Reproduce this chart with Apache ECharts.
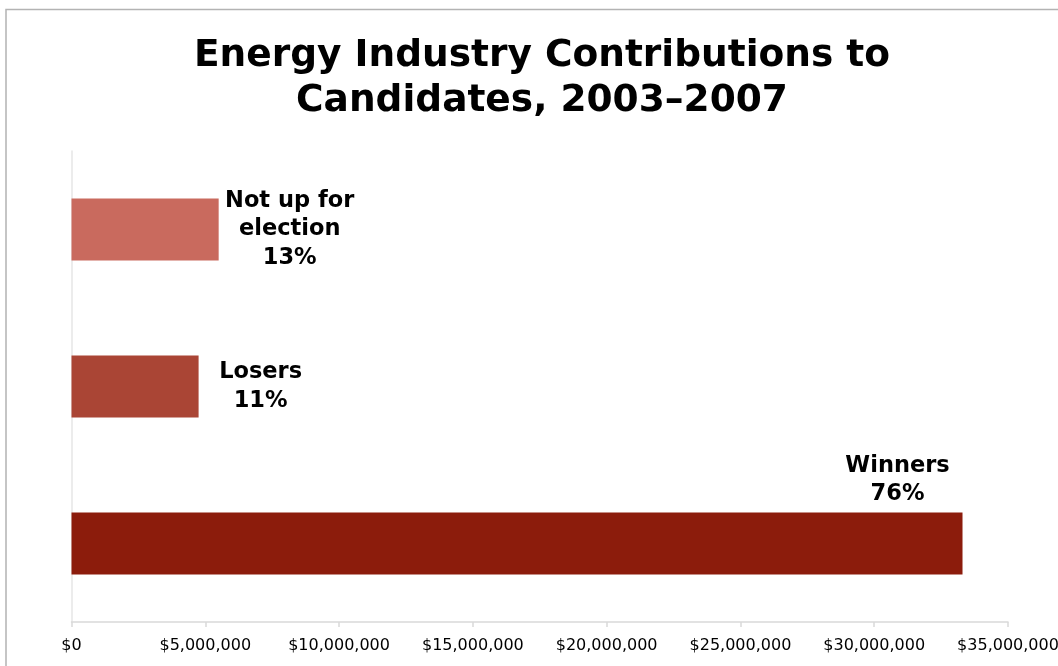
<!DOCTYPE html>
<html>
<head>
<meta charset="utf-8">
<script src="https://cdn.jsdelivr.net/npm/echarts@6/dist/echarts.min.js"></script>
<style>
  html, body { margin: 0; padding: 0; background: #fff; }
  #chart { width: 1058px; height: 666px; }
</style>
</head>
<body>
<div id="chart"></div>
<script>
// Contribution groups, bottom to top on the category axis
const categories = ['Winners', 'Losers', 'Not up for\nelection'];
// Dollars contributed to each group
const contributions = [33300000, 4750000, 5500000];
const barColors = ['#8c1c0c', '#aa4535', '#c96a5e'];
// Tick values for the dollar axis
const axisMin = 0;
const axisMax = 35000000;
const axisStep = 5000000;

const total = contributions.reduce((a, b) => a + b, 0);

function money(v) {
  return '$' + Math.round(v).toString().replace(/\B(?=(\d{3})+(?!\d))/g, ',');
}

// Label placement per bar: Winners sits above the bar end, the others to its right
const labelPlacement = [
  { position: ['100%', 0], align: 'center', verticalAlign: 'bottom', offset: [-65, -4] },
  { position: ['100%', '50%'], align: 'center', verticalAlign: 'middle', offset: [62, 0] },
  { position: ['100%', '50%'], align: 'center', verticalAlign: 'middle', offset: [71, 0] }
];

const font = '"DejaVu Sans", Verdana, sans-serif';

const chart = echarts.init(document.getElementById('chart'), null, { renderer: 'canvas' });

chart.setOption({
  animation: false,
  backgroundColor: '#fff',
  title: {
    text: 'Energy Industry Contributions to\nCandidates, 2003\u20132007',
    left: 537,
    textAlign: 'center',
    top: 29,
    textStyle: {
      fontFamily: font,
      fontWeight: 'bold',
      fontSize: 37.5,
      lineHeight: 45,
      color: '#000'
    }
  },
  graphic: [
    {
      type: 'polyline',
      silent: true,
      shape: { points: [[6, 700], [6, 9.5], [1070, 9.5]] },
      style: { stroke: '#b3b3b3', lineWidth: 1.5, fill: null }
    }
  ],
  grid: { left: 71.5, right: 50, top: 151, bottom: 44, containLabel: false, outerBoundsMode: 'none' },
  xAxis: {
    type: 'value',
    min: axisMin,
    max: axisMax,
    interval: axisStep,
    axisLine: { show: true, lineStyle: { color: '#d9d9d9', width: 1.5 } },
    axisTick: { show: true, length: 5, lineStyle: { color: '#d9d9d9', width: 1.5 } },
    splitLine: { show: false },
    axisLabel: {
      formatter: money,
      fontFamily: font,
      fontSize: 16,
      color: '#000',
      margin: 16,
      hideOverlap: false
    }
  },
  yAxis: {
    type: 'category',
    data: categories,
    axisLine: { show: true, lineStyle: { color: '#e6e6e6', width: 1.5 } },
    axisTick: { show: false },
    axisLabel: { show: false },
    splitLine: { show: false }
  },
  series: [{
    type: 'bar',
    barWidth: 62,
    data: contributions.map((v, i) => ({
      value: v,
      itemStyle: { color: barColors[i] },
      label: Object.assign({
        show: true,
        formatter: () => categories[i] + '\n' + Math.round(v / total * 100) + '%',
        fontFamily: font,
        fontWeight: 'bold',
        fontSize: 22.5,
        lineHeight: 28.5,
        color: '#000'
      }, labelPlacement[i])
    }))
  }]
});
</script>
</body>
</html>
